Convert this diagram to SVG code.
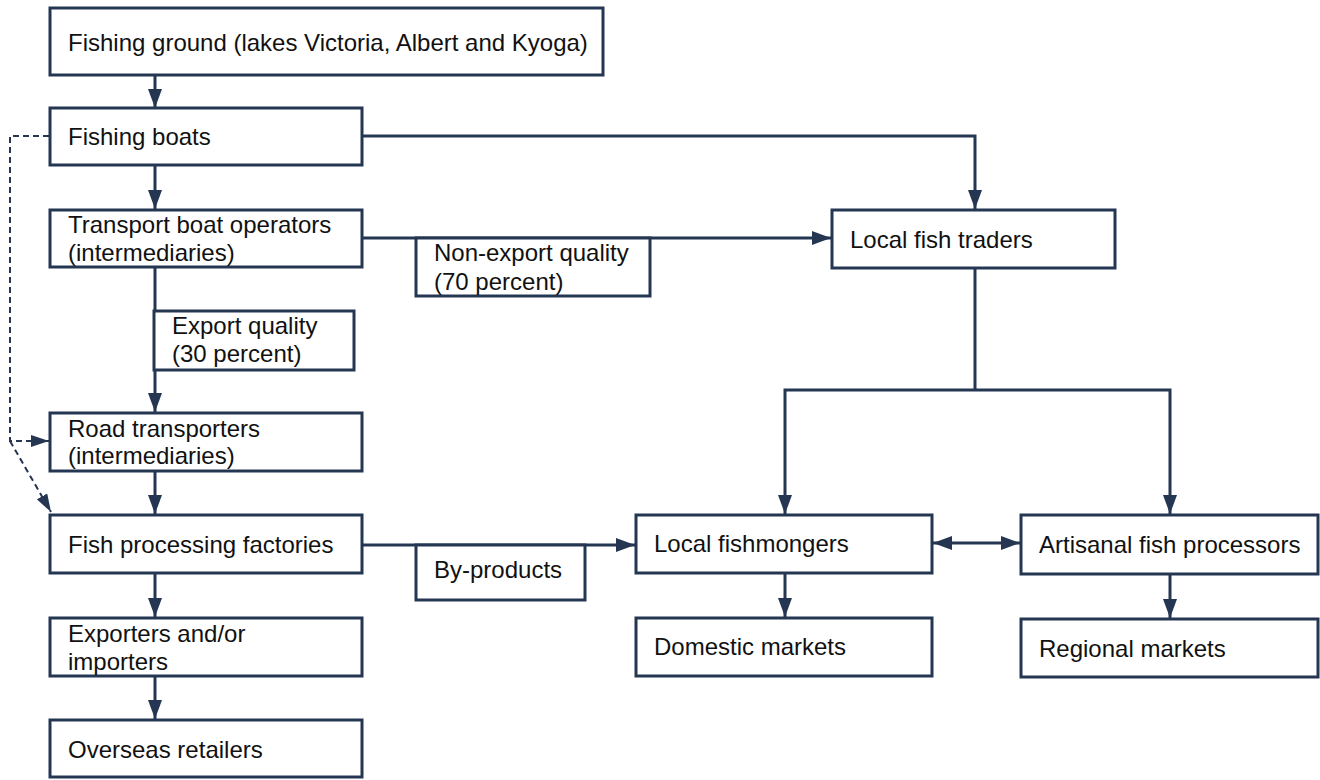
<svg xmlns="http://www.w3.org/2000/svg" width="1320" height="780" viewBox="0 0 1320 780">
<style>
.box{fill:#fff;stroke:#253652;stroke-width:3}
.t{font-family:"Liberation Sans",Arial,sans-serif;font-size:24px;fill:#111}
.c{fill:none;stroke:#253652;stroke-width:3}
.d{fill:none;stroke:#253652;stroke-width:2;stroke-dasharray:6 4}
</style>
<defs>
<marker id="ah" viewBox="0 0 19 14" refX="19" refY="7" markerWidth="19" markerHeight="14" markerUnits="userSpaceOnUse" orient="auto-start-reverse"><path d="M0,0 L19,7 L0,14 Z" fill="#253652"/></marker>
<marker id="ahd" viewBox="0 0 18 12" refX="18" refY="6" markerWidth="18" markerHeight="12" markerUnits="userSpaceOnUse" orient="auto"><path d="M0,0 L18,6 L0,12 Z" fill="#253652"/></marker>
</defs>
<rect width="1320" height="780" fill="#fff"/>
<g id="connectors">
<path class="c" d="M155,75 V108" marker-end="url(#ah)"/>
<path class="c" d="M155,165 V209" marker-end="url(#ah)"/>
<path class="c" d="M362,136 H975 V209" marker-end="url(#ah)"/>
<path class="c" d="M362,238 H831" marker-end="url(#ah)"/>
<path class="c" d="M155,267 V412" marker-end="url(#ah)"/>
<path class="c" d="M155,471 V514" marker-end="url(#ah)"/>
<path class="c" d="M155,573 V617" marker-end="url(#ah)"/>
<path class="c" d="M155,676 V719" marker-end="url(#ah)"/>
<path class="c" d="M362,545 H635" marker-end="url(#ah)"/>
<path class="c" d="M975,268 V390"/>
<path class="c" d="M785,514 V390 H1170 V514" marker-start="url(#ah)" marker-end="url(#ah)"/>
<path class="c" d="M933,543 H1020" marker-start="url(#ah)" marker-end="url(#ah)"/>
<path class="c" d="M785,573 V617" marker-end="url(#ah)"/>
<path class="c" d="M1170,574 V618" marker-end="url(#ah)"/>
<path class="d" d="M49,136 H10 V441 H49" marker-end="url(#ahd)"/>
<path class="d" d="M10,441 L51,512" marker-end="url(#ahd)"/>
</g>
<g id="n1"><rect class="box" x="50" y="8" width="553" height="67"/><text class="t" x="68" y="51">Fishing ground (lakes Victoria, Albert and Kyoga)</text></g>
<g id="n2"><rect class="box" x="50" y="108" width="312" height="57"/><text class="t" x="68" y="145">Fishing boats</text></g>
<g id="n3"><rect class="box" x="50" y="210" width="312" height="57"/><text class="t" x="68" y="233">Transport boat operators</text><text class="t" x="68" y="261">(intermediaries)</text></g>
<g id="lbl-export"><rect class="box" x="154" y="311" width="200" height="59"/><text class="t" x="172" y="334">Export quality</text><text class="t" x="172" y="362">(30 percent)</text></g>
<g id="n4"><rect class="box" x="50" y="413" width="312" height="58"/><text class="t" x="68" y="437">Road transporters</text><text class="t" x="68" y="464">(intermediaries)</text></g>
<g id="n5"><rect class="box" x="50" y="515" width="312" height="58"/><text class="t" x="68" y="553">Fish processing factories</text></g>
<g id="n6"><rect class="box" x="50" y="618" width="312" height="58"/><text class="t" x="68" y="642">Exporters and/or</text><text class="t" x="68" y="670">importers</text></g>
<g id="n7"><rect class="box" x="50" y="720" width="312" height="57"/><text class="t" x="68" y="758">Overseas retailers</text></g>
<g id="lbl-nonexport"><rect class="box" x="416" y="238" width="234" height="58"/><text class="t" x="434" y="261">Non-export quality</text><text class="t" x="434" y="290">(70 percent)</text></g>
<g id="n8"><rect class="box" x="832" y="210" width="283" height="58"/><text class="t" x="850" y="248">Local fish traders</text></g>
<g id="lbl-byproducts"><rect class="box" x="416" y="545" width="169" height="55"/><text class="t" x="434" y="578">By-products</text></g>
<g id="n9"><rect class="box" x="636" y="515" width="296" height="58"/><text class="t" x="654" y="552">Local fishmongers</text></g>
<g id="n10"><rect class="box" x="1021" y="515" width="297" height="59"/><text class="t" x="1039" y="553">Artisanal fish processors</text></g>
<g id="n11"><rect class="box" x="636" y="618" width="296" height="58"/><text class="t" x="654" y="655">Domestic markets</text></g>
<g id="n12"><rect class="box" x="1021" y="619" width="297" height="58"/><text class="t" x="1039" y="657">Regional markets</text></g>
</svg>
